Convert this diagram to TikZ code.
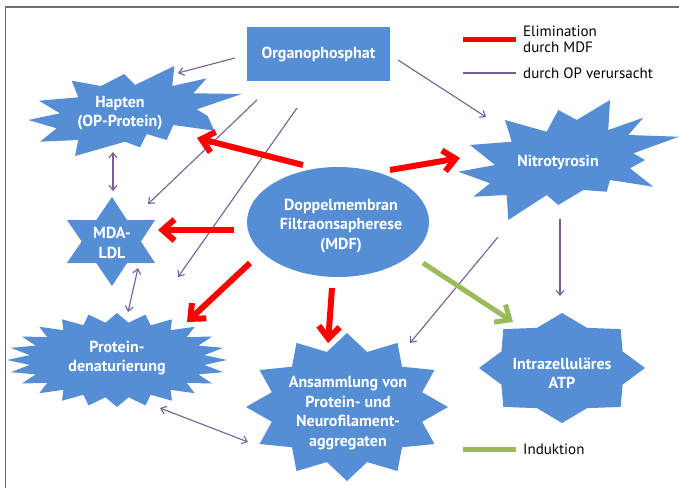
\documentclass[tikz,border=0pt]{standalone}
\usepackage{fontspec}
\setmainfont{PT Sans}
\usetikzlibrary{arrows.meta}
\definecolor{shapeblue}{RGB}{85,142,213}
\definecolor{oparrow}{RGB}{122,92,150}
\definecolor{elimred}{RGB}{255,0,0}
\definecolor{indgreen}{RGB}{155,187,89}
\definecolor{framegray}{RGB}{110,110,110}
\newcommand{\drawseal}[7]{%
  \fill[shapeblue] ({#1+#3*cos(#7)},{#2+#4*sin(#7)})
    \foreach \k [evaluate=\k as \srad using {1-(1-#6)*mod(\k,2)},
                 evaluate=\k as \sang using {#7+\k*(360/(#5+1))}] in {1,...,#5} {
      -- ({#1+\srad*#3*cos(\sang)},{#2+\srad*#4*sin(\sang)})
    } -- cycle;}
\tikzset{
 lbl/.style={text=white, font=\bfseries\fontsize{16}{19.5}\selectfont, align=center, inner sep=0pt},
 legtxt/.style={text=black, font=\fontsize{15}{15.5}\selectfont, align=left, anchor=west, inner sep=0pt},
 oparr/.style={draw=oparrow, line width=1.1pt, -{Straight Barb[length=5pt,width=8pt]}},
 opdbl/.style={draw=oparrow, line width=1.1pt, {Straight Barb[length=5pt,width=8pt]}-{Straight Barb[length=5pt,width=8pt]}},
 elimarr/.style={draw=elimred, line width=6pt, -{Straight Barb[length=12pt,width=21pt]}},
 indarr/.style={draw=indgreen, line width=5pt, -{Straight Barb[length=12pt,width=21pt]}},
}
\begin{document}
\begin{tikzpicture}[x=1pt,y=-1pt]
\useasboundingbox (0,0) rectangle (679,488);
% frame
\draw[framegray, line width=1.6pt] (5.5,488) -- (5.5,7) -- (679,7);

% shapes
\fill[shapeblue] (247,27) rectangle (390,81);
\fill[shapeblue] (338,222) ellipse [x radius=91, y radius=55];
% Hapten explosion
\fill[shapeblue] (28.3,120) -- (60,113.3) -- (39,100.7) -- (78.3,97.3) -- (71.7,80.7) -- (101,86)
  -- (124.3,74) -- (135,85) -- (174.3,66) -- (172.3,86) -- (206.7,78.3) -- (193.3,93.3)
  -- (241.7,94) -- (196.7,109.3) -- (207.7,116) -- (214.3,130.7) -- (173.3,125) -- (166.7,140)
  -- (146.7,134) -- (140,147.3) -- (125,141.7) -- (75,156) -- (78.3,140) -- (40,141.7)
  -- (56.7,128.3) -- cycle;
% Nitrotyrosin explosion
\fill[shapeblue] (458.3,171.7) -- (495,165) -- (470,145) -- (511.7,141.7) -- (505,120)
  -- (546.7,131.7) -- (558.3,110) -- (576.7,120) -- (610,100) -- (608.3,130) -- (643.3,117.7)
  -- (628.3,135) -- (679,136.7) -- (633.3,153.3) -- (645,160) -- (630,168.3) -- (653.3,186.7)
  -- (610,180) -- (606.7,191.7) -- (583.3,190) -- (558.3,205) -- (546.7,195) -- (508.3,220)
  -- (506.7,195) -- (473.3,196.7) -- (490,183.3) -- cycle;
% MDA-LDL hexagram
\fill[shapeblue] (112,197) -- (155,263) -- (67,263) -- cycle;
\fill[shapeblue] (112,286) -- (155,220) -- (67,220) -- cycle;
% seals
\drawseal{117}{360}{110}{47}{47}{0.8}{90}
\drawseal{347}{407}{101}{74}{23}{0.77}{90}
\drawseal{562}{368}{83}{55}{15}{0.79}{90}

% labels
\node[lbl] (op) at (318.5,54) {Organophosphat};
\node[lbl] (hap) at (120,113) {Hapten\\(OP-Protein)};
\node[lbl] (mda) at (112,243) {MDA-\\LDL};
\node[lbl] (mdf) at (341,226) {Doppelmembran\\Filtraonsapherese\\(MDF)};
\node[lbl] (nit) at (558,162) {Nitrotyrosin};
\node[lbl] (prot) at (117,358) {Protein-\\denaturierung};
\node[lbl] (ans) at (348,413) {Ansammlung von\\Protein- und\\Neurofilament-\\aggregaten};
\node[lbl] (atp) at (562,373) {Intrazelluläres\\ATP};

% connector endpoints
\coordinate (o1s) at (235,58);   \coordinate (o1e) at (178,73);
\coordinate (o2s) at (398,60);   \coordinate (o2e) at (486,117);
\coordinate (o3s) at (257,100);  \coordinate (o3e) at (148,204);
\coordinate (o4s) at (297,108);  \coordinate (o4e) at (178,277);
\coordinate (d1s) at (113,152);  \coordinate (d1e) at (113,191);
\coordinate (d2s) at (138,268);  \coordinate (d2e) at (128,312);
\coordinate (d3s) at (160,408);  \coordinate (d3e) at (248,442);
\coordinate (o5s) at (498,237);  \coordinate (o5e) at (410,343);
\coordinate (o6s) at (560,219);  \coordinate (o6e) at (560,296);
\coordinate (r1s) at (303,165);  \coordinate (r1e) at (197,138);
\coordinate (r2s) at (390,170);  \coordinate (r2e) at (460,158);
\coordinate (r3s) at (234,230);  \coordinate (r3e) at (158,230);
\coordinate (r4s) at (250,263);  \coordinate (r4e) at (187,322);
\coordinate (r5s) at (332,288);  \coordinate (r5e) at (328,343);
\coordinate (g1s) at (423,263);  \coordinate (g1e) at (513,322);

% purple connectors
\draw[oparr] (o1s) -- (o1e);
\draw[oparr] (o2s) -- (o2e);
\draw[oparr] (o3s) -- (o3e);
\draw[oparr] (o4s) -- (o4e);
\draw[oparr] (o5s) -- (o5e);
\draw[oparr] (o6s) -- (o6e);
\draw[opdbl] (d1s) -- (d1e);
\draw[opdbl] (d2s) -- (d2e);
\draw[opdbl] (d3s) -- (d3e);
% red connectors
\draw[elimarr] (r1s) -- (r1e);
\draw[elimarr] (r2s) -- (r2e);
\draw[elimarr] (r3s) -- (r3e);
\draw[elimarr] (r4s) -- (r4e);
\draw[elimarr] (r5s) -- (r5e);
% green connector
\draw[indarr] (g1s) -- (g1e);

% legend
\coordinate (l1a) at (463,39); \coordinate (l1b) at (516,39);
\coordinate (l2a) at (463,73); \coordinate (l2b) at (516,73);
\coordinate (l3a) at (463,449); \coordinate (l3b) at (516,449);
\draw[elimred, line width=5pt] (l1a) -- (l1b);
\draw[oparrow, line width=1.1pt] (l2a) -- (l2b);
\draw[indgreen, line width=5pt] (l3a) -- (l3b);
\node[legtxt] (lt1) at (523,39.5) {Elimination\\durch MDF};
\node[legtxt] (lt2) at (523,73) {durch OP verursacht};
\node[legtxt] (lt3) at (523,449) {Induktion};
\end{tikzpicture}
\end{document}
